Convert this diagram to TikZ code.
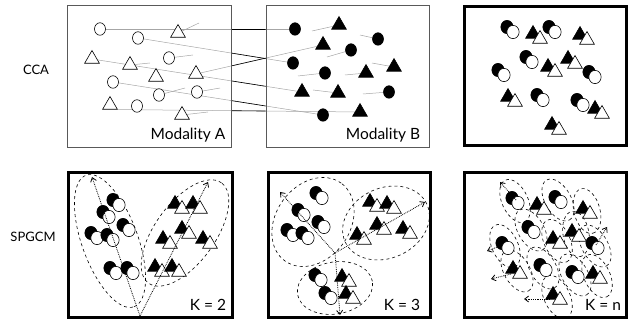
\documentclass[tikz,border=0pt]{standalone}
\usepackage{fontspec}
\setmainfont{Lato}
\usetikzlibrary{shapes.geometric,backgrounds,arrows.meta}
\tikzset{
 fcirc/.style={ellipse, draw, fill=black, line width=0.6pt, minimum width=11pt, minimum height=12.5pt, inner sep=0pt},
 ocirc/.style={fcirc, fill=white},
 pfcirc/.style={fcirc, minimum width=12.3pt, minimum height=13.3pt},
 pocirc/.style={pfcirc, fill=white},
 ftri/.style={regular polygon, regular polygon sides=3, draw, fill=black, line width=0.6pt, minimum size=17pt, inner sep=0pt},
 otri/.style={ftri, fill=white},
 link/.style={draw=gray!70, line width=0.5pt},
 gaplink/.style={draw=black, line width=0.6pt},
 thinbox/.style={draw=gray!70!black, line width=0.9pt},
 thickbox/.style={draw=black, line width=3pt},
 dell/.style={ellipse, draw, dashed, line width=0.6pt, inner sep=0pt},
 darr/.style={densely dotted, line width=0.8pt, -{Straight Barb[length=4pt,width=6pt]}},
 lbl/.style={font=\fontsize{15.5}{15.5}\selectfont, inner sep=0pt},
 rowlbl/.style={font=\fontsize{13}{13}\selectfont, inner sep=0pt},
}
\newcommand\cpair[3]{\node[pfcirc] (#1f) at (#2,#3) {}; \node[pocirc] (#1o) at (#2+6,#3+5) {};}
\newcommand\tpair[3]{\node[ftri] (#1f) at (#2,#3+2) {}; \node[otri] (#1o) at (#2+7,#3+7) {};}
\begin{document}
\begin{tikzpicture}[x=1pt,y=-1pt]
\useasboundingbox (0,0) rectangle (629,320);
% frames
\draw[thinbox] (67,5) rectangle (231,147);
\draw[thinbox] (266,5) rectangle (429,147);
\draw[thickbox] (464,7) rectangle (626,146);
\draw[thickbox] (68,173) rectangle (232,317);
\draw[thickbox] (268,173) rectangle (430,317);
\draw[thickbox] (464,173) rectangle (626,317);
% row labels
\node[rowlbl] (lcca) at (36,70) {CCA};
\node[rowlbl] (lsp) at (33,237) {SPGCM};
\node[lbl] (lma) at (188,135) {Modality A};
\node[lbl] (lmb) at (383,135) {Modality B};
% ---- Modality A ----
\node[ocirc] (ac1) at (100,29) {};
\node[ocirc] (ac2) at (138,38) {};
\node[ocirc] (ac3) at (169,58) {};
\node[ocirc] (ac4) at (113,82) {};
\node[ocirc] (ac5) at (159,95) {};
\node[ocirc] (ac6) at (197,92) {};
\node[ocirc] (ac7) at (137,106) {};
\node[otri] (at1) at (178,33) {};
\node[otri] (at2) at (92,59) {};
\node[otri] (at3) at (130,65) {};
\node[otri] (at4) at (156,77) {};
\node[otri] (at5) at (196,74) {};
\node[otri] (at6) at (110,105) {};
\node[otri] (at7) at (182,115) {};
% ---- Modality B ----
\node[fcirc] (bc1) at (295,29) {};
\node[fcirc] (bc2) at (378,39) {};
\node[fcirc] (bc3) at (351,50) {};
\node[fcirc] (bc4) at (293,63) {};
\node[fcirc] (bc5) at (325,73) {};
\node[fcirc] (bc6) at (389,92) {};
\node[fcirc] (bc7) at (323,115) {};
\node[ftri] (bt1) at (339,25) {};
\node[ftri] (bt2) at (323,45) {};
\node[ftri] (bt3) at (366,73) {};
\node[ftri] (bt4) at (394,67) {};
\node[ftri] (bt5) at (302,92) {};
\node[ftri] (bt6) at (338,93) {};
\node[ftri] (bt7) at (360,112) {};
% stub ends
\coordinate (sa1) at (199,23);
\coordinate (sa2) at (193,55);
\coordinate (sa3) at (150,63);
\coordinate (sa4) at (185,88);
\coordinate (sa5) at (220,88);
\coordinate (sa6) at (208,112);
\coordinate (sb1) at (312,31);
\coordinate (sb2) at (360,35);
\coordinate (sb3) at (327,57);
\coordinate (sb4) at (298,76);
\coordinate (sb5) at (345,75);
\coordinate (sb6) at (372,63);
\coordinate (sb7) at (313,90);
\coordinate (sb8) at (363,94);
\begin{scope}[on background layer]
 \draw[link] (ac1) -- (bc1);
 \draw[link] (ac2) -- (bc4);
 \draw[link] (at5) -- (bt2);
 \draw[link] (at2) -- (bt5);
 \draw[link] (ac4) -- (bc7);
 \draw[link] (at6.corner 3) -- (bt7);
 \draw[link] (at1) -- (sa1);
 \draw[link] (ac3) -- (sa2);
 \draw[link] (at3) -- (sa3);
 \draw[link] (ac5) -- (sa4);
 \draw[link] (ac6) -- (sa5);
 \draw[link] (at7) -- (sa6);
 \draw[link] (bt1) -- (sb1);
 \draw[link] (bc2) -- (sb2);
 \draw[link] (bc3) -- (sb3);
 \draw[link] (bc5) -- (sb4);
 \draw[link] (bt3) -- (sb5);
 \draw[link] (bt4) -- (sb6);
 \draw[link] (bt6) -- (sb7);
 \draw[link] (bc6) -- (sb8);
 \begin{scope}
  \clip (231.5,0) rectangle (265.5,150);
  \draw[gaplink] (ac1) -- (bc1);
  \draw[gaplink] (ac2) -- (bc4);
  \draw[gaplink] (at5) -- (bt2);
  \draw[gaplink] (at2) -- (bt5);
  \draw[gaplink] (ac4) -- (bc7);
  \draw[gaplink] (at6.corner 3) -- (bt7);
 \end{scope}
\end{scope}
% ---- CCA result ----
\cpair{r1}{507}{27} \cpair{r2}{549}{27} \cpair{r3}{526}{57} \cpair{r4}{498}{70}
\cpair{r5}{589}{72} \cpair{r6}{537}{95} \cpair{r7}{577}{100}
\tpair{q1}{533}{32} \tpair{q2}{580}{33} \tpair{q3}{568}{57} \tpair{q4}{548}{65}
\tpair{q5}{508}{95} \tpair{q6}{595}{107} \tpair{q7}{552}{123}
% ---- K = 2 ----
\node[dell, minimum width=140pt, minimum height=56pt, rotate=-70] (e2a) at (110,241) {};
\node[dell, minimum width=124pt, minimum height=60pt, rotate=54] (e2b) at (185,233) {};
\cpair{u1}{113}{200} \cpair{u2}{103}{212} \cpair{u3}{123}{225} \cpair{u4}{91}{233}
\cpair{u5}{107}{235} \cpair{u6}{110}{268} \cpair{u7}{127}{268}
\tpair{v1}{175}{202} \tpair{v2}{193}{202} \tpair{v3}{182}{227} \tpair{v4}{163}{237}
\tpair{v5}{203}{237} \tpair{v6}{155}{265} \tpair{v7}{172}{265}
\coordinate (o2) at (140,316);
\coordinate (t2a) at (92,177);
\coordinate (t2b) at (208,182);
\draw[darr] (o2) -- (t2a);
\draw[darr] (o2) -- (t2b);
\node[lbl] (k2) at (208,305) {K = 2};
% ---- K = 3 ----
\node[dell, minimum width=96pt, minimum height=74pt, rotate=54] (e3a) at (313,222) {};
\node[dell, minimum width=90pt, minimum height=70pt, rotate=25] (e3b) at (386,223) {};
\node[dell, minimum width=76pt, minimum height=52pt, rotate=10] (e3c) at (335,288) {};
\cpair{w1}{316}{193} \cpair{w2}{298}{210} \cpair{w3}{318}{222} \cpair{w4}{287}{230}
\cpair{w5}{302}{233} \cpair{w6}{315}{275} \cpair{w7}{325}{293}
\tpair{x1}{370}{200} \tpair{x2}{387}{202} \tpair{x3}{377}{223} \tpair{x4}{357}{233}
\tpair{x5}{403}{227} \tpair{x6}{342}{275} \tpair{x7}{346}{292}
\coordinate (o3) at (335,253);
\coordinate (t3a) at (280,192);
\coordinate (t3b) at (425,202);
\coordinate (t3c) at (340,315);
\draw[darr] (o3) -- (t3a);
\draw[darr] (o3) -- (t3b);
\draw[darr] (o3) -- (t3c);
\node[lbl] (k3) at (402,305) {K = 3};
% ---- K = n ----
\node[dell, minimum width=46pt, minimum height=26pt, rotate=-65] (n1) at (515,201) {};
\node[dell, minimum width=46pt, minimum height=26pt, rotate=-60] (n2) at (558,200) {};
\node[dell, minimum width=46pt, minimum height=26pt, rotate=-60] (n3) at (531,230) {};
\node[dell, minimum width=46pt, minimum height=26pt, rotate=-65] (n4) at (505,246) {};
\node[dell, minimum width=46pt, minimum height=26pt, rotate=-60] (n5) at (595,246) {};
\node[dell, minimum width=46pt, minimum height=26pt, rotate=-60] (n6) at (543,268) {};
\node[dell, minimum width=46pt, minimum height=26pt, rotate=-60] (n7) at (575,275) {};
\node[dell, minimum width=46pt, minimum height=26pt, rotate=-75] (n8) at (587,211) {};
\node[dell, minimum width=46pt, minimum height=26pt, rotate=-65] (n9) at (557,241) {};
\node[dell, minimum width=46pt, minimum height=26pt, rotate=-80] (n10) at (576,234) {};
\node[dell, minimum width=46pt, minimum height=26pt, rotate=-60] (n11) at (517,271) {};
\node[dell, minimum width=46pt, minimum height=26pt, rotate=-65] (n12) at (597,276) {};
\node[dell, minimum width=46pt, minimum height=26pt, rotate=-65] (n13) at (557,297) {};
\cpair{y1}{512}{198} \cpair{y2}{555}{197} \cpair{y3}{528}{227} \cpair{y4}{502}{243}
\cpair{y5}{592}{243} \cpair{y6}{540}{265} \cpair{y7}{572}{272}
\tpair{z1}{537}{203} \tpair{z2}{583}{207} \tpair{z3}{553}{237} \tpair{z4}{572}{230}
\tpair{z5}{513}{267} \tpair{z6}{593}{272} \tpair{z7}{553}{293}
\coordinate (on1) at (516,200); \coordinate (tn1) at (500,182);
\coordinate (on2) at (596,245); \coordinate (tn2) at (607,227);
\coordinate (on3) at (500,246); \coordinate (tn3) at (487,251);
\coordinate (on4) at (511,274); \coordinate (tn4) at (491,279);
\coordinate (on5) at (550,299); \coordinate (tn5) at (524,299);
\draw[darr] (on1) -- (tn1);
\draw[darr] (on2) -- (tn2);
\draw[darr] (on3) -- (tn3);
\draw[darr] (on4) -- (tn4);
\draw[darr] (on5) -- (tn5);
\node[lbl] (kn) at (603,305) {K = n};
\end{tikzpicture}
\end{document}
